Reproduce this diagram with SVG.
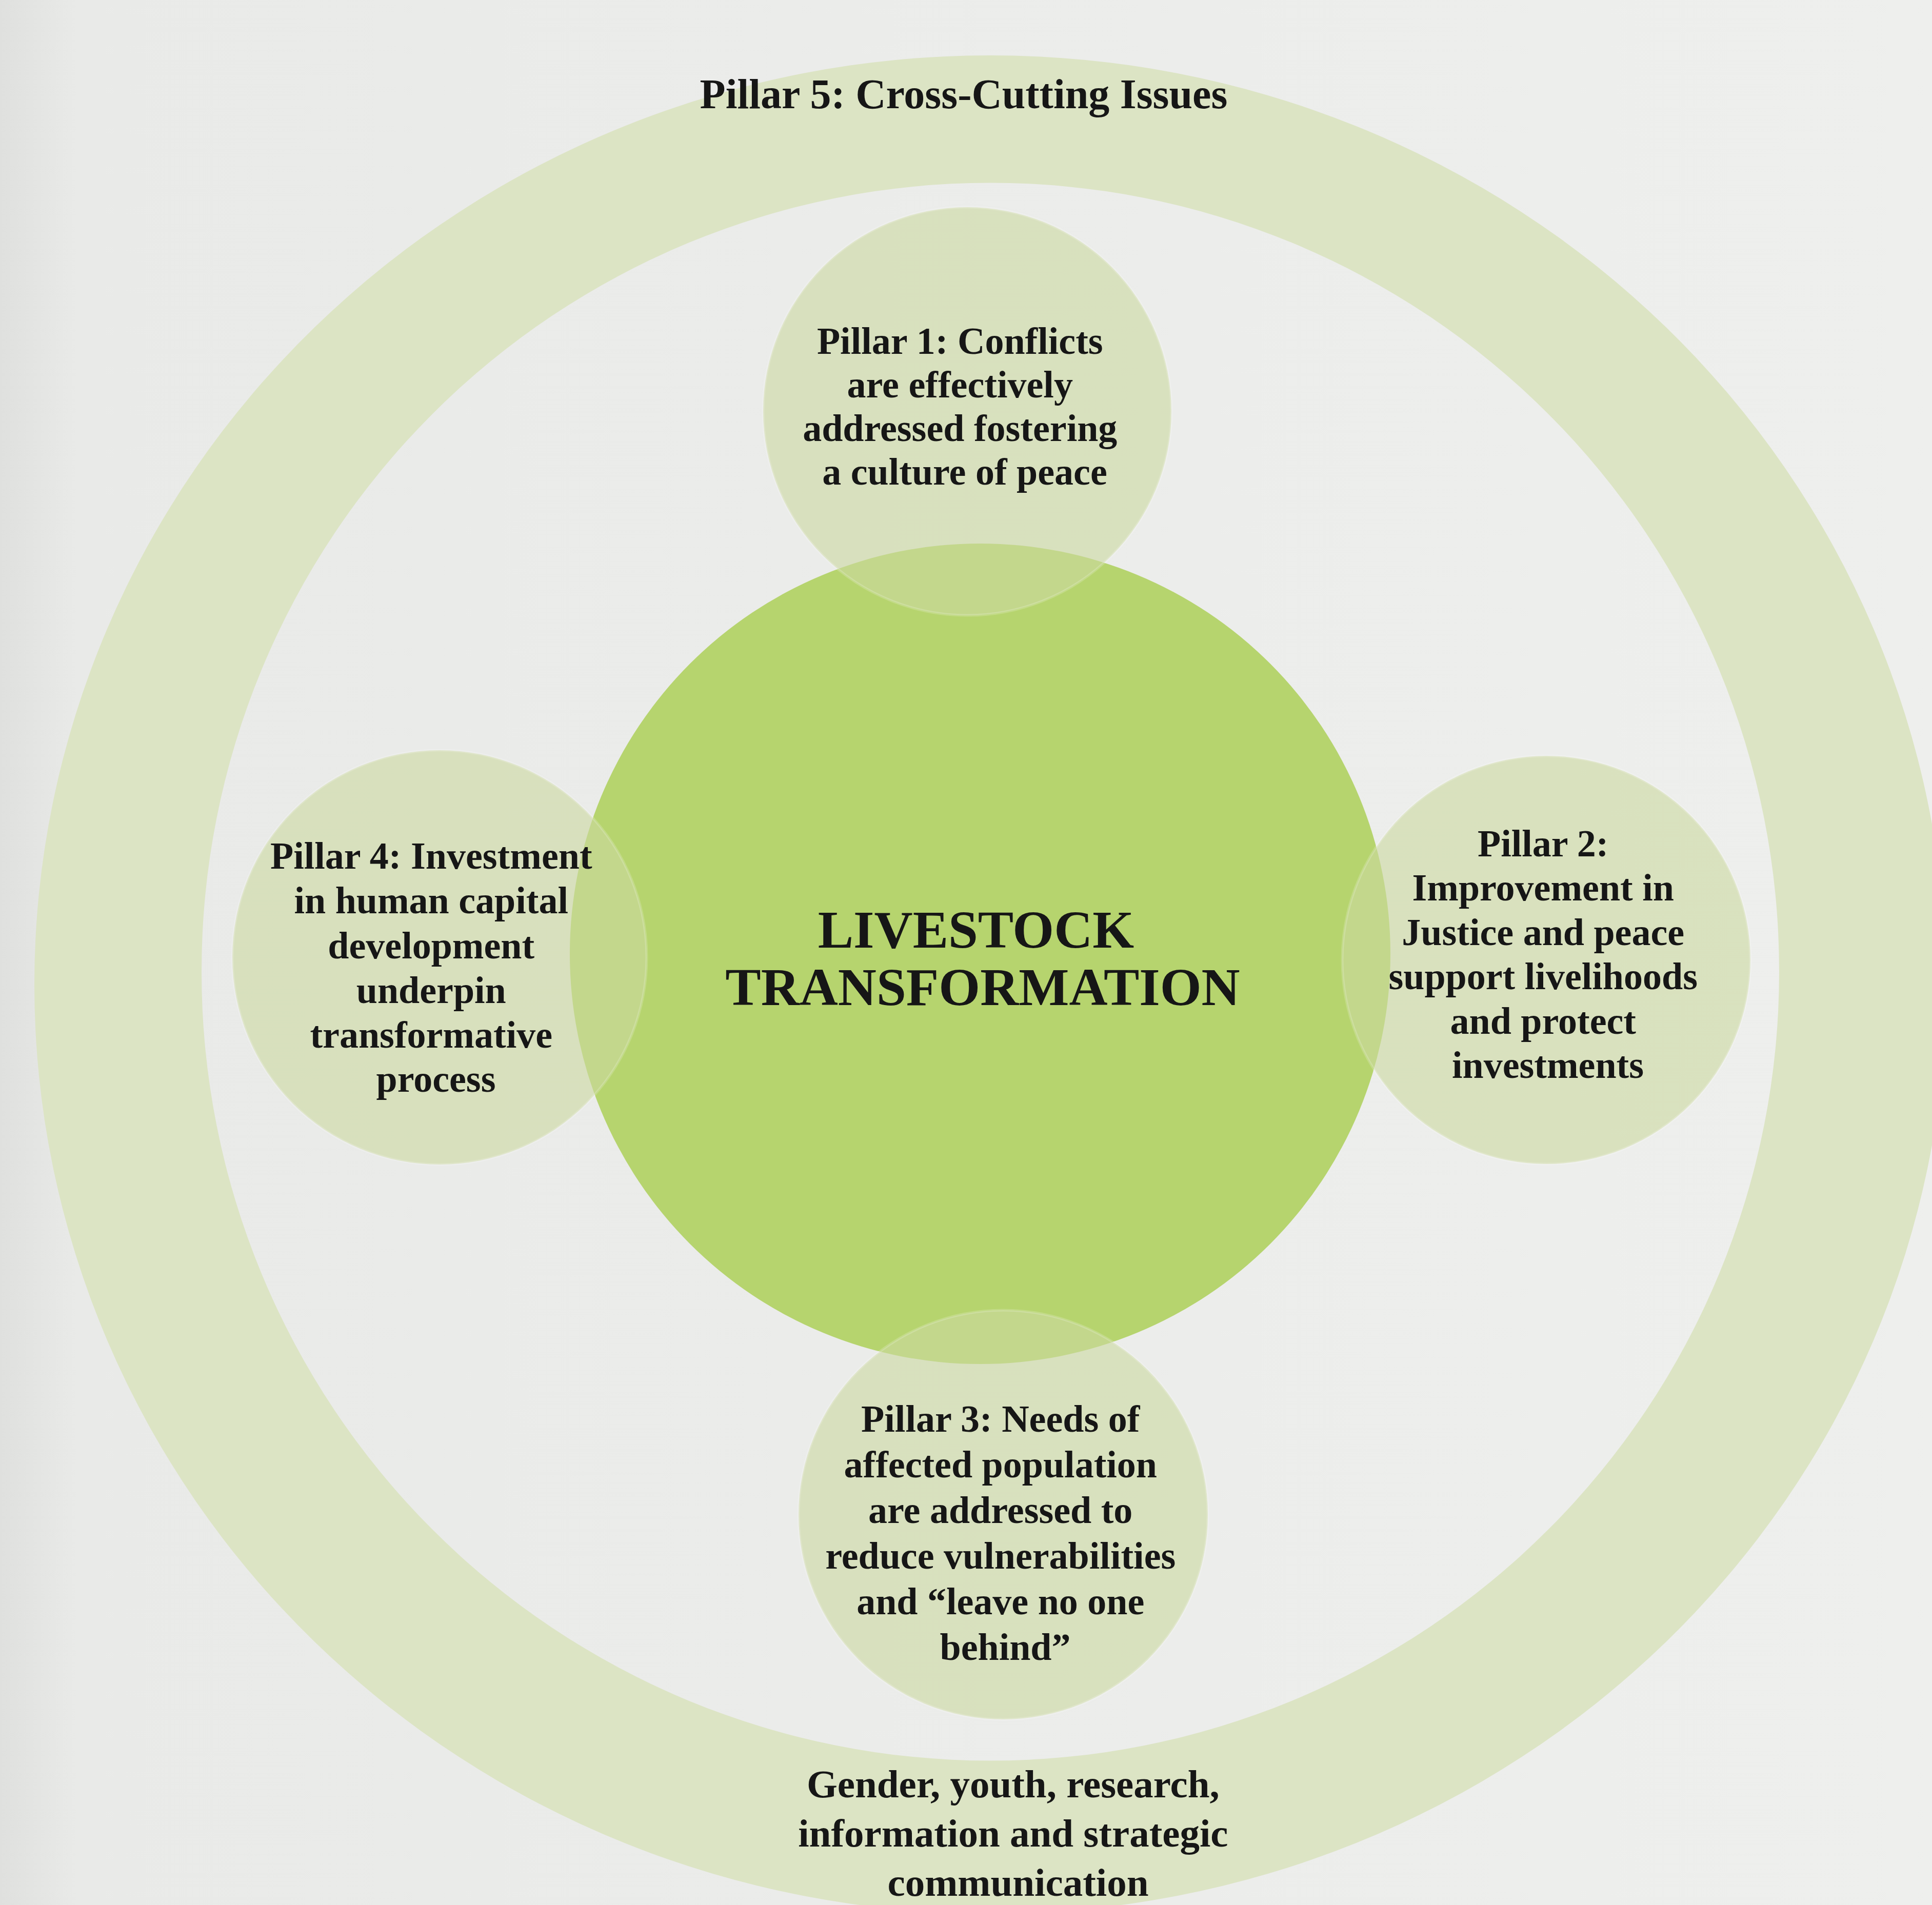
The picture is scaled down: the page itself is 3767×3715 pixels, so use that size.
<svg xmlns="http://www.w3.org/2000/svg" width="3767" height="3715" viewBox="0 0 3767 3715">
  <defs>
    <linearGradient id="paper" x1="0" y1="0" x2="1" y2="0">
      <stop offset="0" stop-color="#dfe0de"/>
      <stop offset="0.04" stop-color="#e9eae8"/>
      <stop offset="1" stop-color="#eeefed"/>
    </linearGradient>
    <style>
      .label { font-family: "Liberation Serif", "Times New Roman", serif; font-weight: bold; fill: #161616; text-anchor: middle; }
      .pillar-text { font-size: 74px; }
      .ring-text { font-size: 82px; }
      .ring-note { font-size: 77px; }
      .core-text { font-size: 104px; }
      .pillar { fill: #cbd9a0; fill-opacity: 0.6; stroke: #ffffff; stroke-opacity: 0.18; stroke-width: 5; }
      .core { fill: #b6d46e; }
      .ring { fill: #dce4c4; fill-rule: evenodd; }
    </style>
  </defs>

  <!-- page background -->
  <rect x="0" y="0" width="3767" height="3715" fill="url(#paper)"/>

  <!-- Pillar 5: outer ring of cross-cutting issues -->
  <g id="pillar5">
    <path class="ring" d="M 67,1920 a 1864 1812 0 1 0 3728 0 a 1864 1812 0 1 0 -3728 0 Z M 393,1895 a 1538 1538 0 1 0 3076 0 a 1538 1538 0 1 0 -3076 0 Z"/>
    <text class="label ring-text" x="1879" y="211">Pillar 5: Cross-Cutting Issues</text>
    <text class="label ring-note">
      <tspan x="1985" y="3505">Gender, youth, research,</tspan>
      <tspan x="1985" y="3601">information and strategic</tspan>
      <tspan x="1985" y="3697">communication</tspan>
    </text>
  </g>

  <!-- central goal -->
  <g id="core">
    <circle class="core" cx="1911" cy="1860" r="800"/>
  </g>

  <!-- Pillar 1 (top) -->
  <g id="pillar1">
    <circle class="pillar" cx="1886" cy="802" r="398"/>
    <text class="label pillar-text">
      <tspan x="1881" y="690">Pillar 1: Conflicts</tspan>
      <tspan x="1881" y="775">are effectively</tspan>
      <tspan x="1881" y="860">addressed fostering</tspan>
      <tspan x="1881" y="945">a culture of peace</tspan>
    </text>
  </g>

  <!-- Pillar 2 (right) -->
  <g id="pillar2">
    <circle class="pillar" cx="3015" cy="1872" r="398"/>
    <text class="label pillar-text">
      <tspan x="3018" y="1670">Pillar 2:</tspan>
      <tspan x="3018" y="1756">Improvement in</tspan>
      <tspan x="3018" y="1843">Justice and peace</tspan>
      <tspan x="3018" y="1929">support livelihoods</tspan>
      <tspan x="3018" y="2016">and protect</tspan>
      <tspan x="3018" y="2102">investments</tspan>
    </text>
  </g>

  <!-- Pillar 3 (bottom) -->
  <g id="pillar3">
    <circle class="pillar" cx="1956" cy="2954" r="399"/>
    <text class="label pillar-text">
      <tspan x="1960" y="2792">Pillar 3: Needs of</tspan>
      <tspan x="1960" y="2881">affected population</tspan>
      <tspan x="1960" y="2970">are addressed to</tspan>
      <tspan x="1960" y="3059">reduce vulnerabilities</tspan>
      <tspan x="1960" y="3148">and “leave no one</tspan>
      <tspan x="1960" y="3237">behind”</tspan>
    </text>
  </g>

  <!-- Pillar 4 (left) -->
  <g id="pillar4">
    <circle class="pillar" cx="857" cy="1867" r="404"/>
    <text class="label pillar-text">
      <tspan x="850" y="1694">Pillar 4: Investment</tspan>
      <tspan x="850" y="1781">in human capital</tspan>
      <tspan x="850" y="1869">development</tspan>
      <tspan x="850" y="1956">underpin</tspan>
      <tspan x="850" y="2043">transformative</tspan>
      <tspan x="850" y="2129">process</tspan>
    </text>
  </g>

  <!-- central label drawn above the overlapping pillar discs -->
  <g id="core-label">
    <text class="label core-text">
      <tspan x="1916" y="1848">LIVESTOCK</tspan>
      <tspan x="1916" y="1960">TRANSFORMATION</tspan>
    </text>
  </g>
</svg>
